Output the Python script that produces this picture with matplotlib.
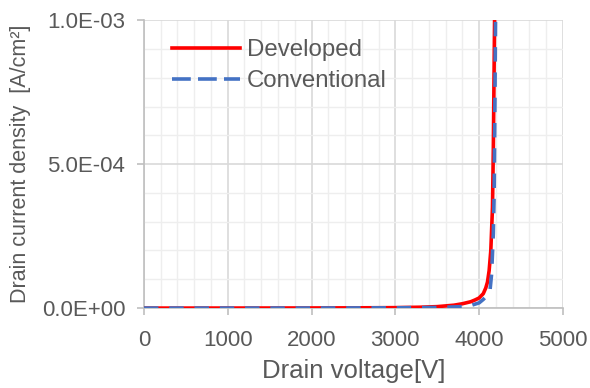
import numpy as np
import matplotlib.pyplot as plt
from matplotlib.ticker import MultipleLocator, FuncFormatter

plt.rcParams['font.family'] = ['Liberation Sans', 'DejaVu Sans']

# Developed device
v_dev = [0, 500, 1000, 1500, 2000, 2500, 3000, 3300, 3500, 3700, 3800, 3900,
         3950, 4000, 4050, 4080, 4100, 4120, 4140, 4160, 4170, 4180, 4190]
i_dev = [0, 0, 1e-7, 2e-7, 4e-7, 8e-7, 1.5e-6, 3e-6, 5e-6, 1e-5, 1.5e-5, 2.2e-5,
         2.8e-5, 3.5e-5, 5e-5, 7e-5, 9e-5, 1.3e-4, 2e-4, 3.5e-4, 5.5e-4, 8.5e-4, 1.15e-3]

# Conventional device
v_conv = [0, 500, 1000, 1500, 2000, 2500, 3000, 3500, 3800, 3900, 4000, 4050,
          4100, 4130, 4150, 4170, 4180, 4190, 4200]
i_conv = [0, 0, 0, 1e-7, 2e-7, 5e-7, 1e-6, 2e-6, 5e-6, 9e-6, 1.8e-5, 3e-5,
          4.5e-5, 6e-5, 1.2e-4, 2.6e-4, 4e-4, 7.5e-4, 1.15e-3]

txt = '#595959'

fig = plt.figure(figsize=(5.9, 3.88), dpi=100)
ax = fig.add_axes([0.244, 0.206, 0.71, 0.742])

ax.plot(v_dev, i_dev, color='#ff0000', lw=2.6, label='Developed', zorder=3)
ax.plot(v_conv, i_conv, color='#4472c4', lw=2.6, ls=(0, (4, 3)),
        label='Conventional', zorder=3)

ax.set_xlim(0, 5000)
ax.set_ylim(0, 1e-3)
ax.xaxis.set_major_locator(MultipleLocator(1000))
ax.xaxis.set_minor_locator(MultipleLocator(200))
ax.yaxis.set_major_locator(MultipleLocator(5e-4))
ax.yaxis.set_minor_locator(MultipleLocator(1e-4))
ax.yaxis.set_major_formatter(FuncFormatter(lambda v, p: f'{v:.1E}'))

ax.grid(which='major', color='#d9d9d9', lw=1.2)
ax.grid(which='minor', color='#eeeeee', lw=1.0)
ax.set_axisbelow(True)

for s in ['top', 'right']:
    ax.spines[s].set_visible(False)
for s in ['left', 'bottom']:
    ax.spines[s].set_color('#bfbfbf')
    ax.spines[s].set_linewidth(1.2)

ax.tick_params(which='major', direction='out', length=5, color='#bfbfbf',
               labelsize=16, labelcolor=txt, width=1.2)
ax.tick_params(which='minor', length=0)
ax.tick_params(axis='x', pad=10.5)
ax.tick_params(axis='y', pad=8.5)

ax.set_xlabel('Drain voltage[V]', fontsize=18.5, color=txt, labelpad=6)
ax.set_ylabel('Drain current density  [A/cm²]', fontsize=15.5, color=txt,
              labelpad=7.5)

leg = ax.legend(loc='upper left', frameon=False, fontsize=17.3, handlelength=2.8,
                bbox_to_anchor=(0.016, 1.008), labelcolor=txt, handletextpad=0.3,
                labelspacing=0.36)
leg.get_lines()[1].set_linestyle((0, (5.2, 2.0)))

fig.savefig('out.png', dpi=100)
